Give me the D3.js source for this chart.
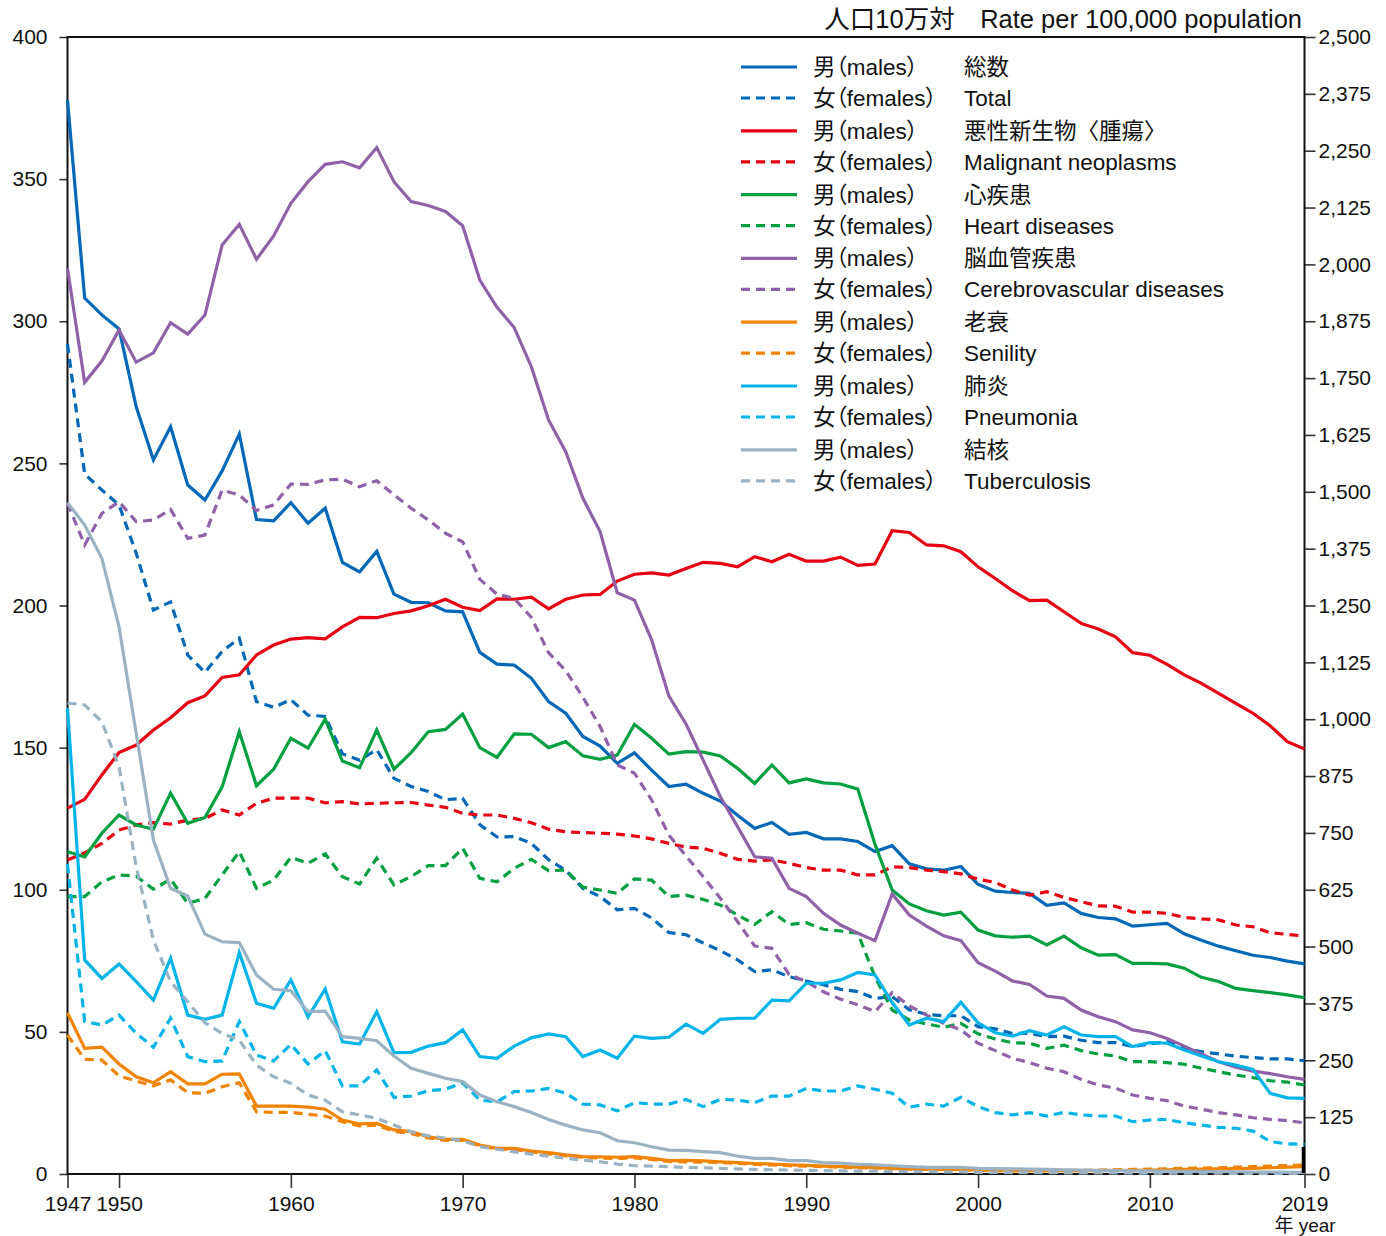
<!DOCTYPE html>
<html>
<head>
<meta charset="utf-8">
<script src="https://cdn.jsdelivr.net/npm/d3@7"></script>
<style>
  body { margin: 0; background: #fff; }
  svg text { font-family: "Liberation Sans", "Noto Sans CJK JP", sans-serif; fill: #111; }
  .jp { font-feature-settings: "palt"; }
</style>
</head>
<body>
<svg id="chart" width="1386" height="1236"></svg>
<script>
// Age-adjusted death rates by cause and sex, 1947-2019
const years = d3.range(1947, 2020);

// Total (right axis, per 100,000)
const totalMale = [2361,1926,1889,1858,1687,1570,1643,1515,1482,1546,
  1627,1439,1436,1476,1431,1464,1345,1324,1369,1275,
  1257,1256,1238,1236,1147,1121,1119,1090,1039,1013,
  962,941,903,926,888,852,857,837,820,789,
  760,773,747,751,737,737,731,709,722,682,
  671,668,676,637,622,619,617,591,596,573,
  564,561,545,548,551,528,514,501,491,481,
  476,468,462];
const totalFemale = [1825,1539,1504,1471,1365,1240,1258,1141,1103,1149,
  1178,1039,1026,1043,1009,1006,924,910,933,870,
  852,841,823,826,768,741,742,727,691,668,
  628,610,581,584,563,531,526,508,491,471,
  445,449,434,424,416,406,401,386,390,361,
  351,348,348,324,319,309,309,302,303,294,
  289,289,280,286,291,276,269,264,259,256,
  253,253,249];

// Causes (left axis, per 100,000)
const cancerMale = [128.7,131.8,140.4,148.3,150.9,156.2,160.5,165.8,168.2,174.7,
  175.6,182.6,186.1,188.2,188.7,188.3,192.5,195.8,195.7,197.2,
  198.1,199.9,202.2,199.4,198.2,202.3,202.2,202.9,198.8,202.2,
  203.7,203.9,208.6,211.0,211.5,210.7,213.0,215.2,214.8,213.6,
  217.2,215.4,218.0,215.6,215.6,217.0,214.1,214.6,226.3,225.7,
  221.3,221.0,218.9,213.6,209.5,205.2,201.7,201.9,197.8,193.7,
  191.7,189.0,183.4,182.5,179.3,175.6,172.6,169.1,165.6,162.1,
  157.7,152.1,149.5];
const cancerFemale = [110.5,113.0,116.3,121.0,122.8,123.6,123.1,124.5,125.1,128.1,
  126.3,130.4,132.2,132.2,132.2,130.6,131.0,130.2,130.4,130.6,
  130.7,129.8,129.0,126.9,126.3,126.3,125.1,123.6,121.3,120.4,
  120.1,119.9,119.6,118.9,117.9,116.3,115.0,114.6,112.8,110.7,
  110.1,110.5,109.3,107.8,106.9,106.9,105.2,105.2,108.1,107.8,
  106.9,106.4,105.6,103.7,102.6,99.9,98.1,99.3,97.3,95.8,
  94.3,94.2,92.1,92.1,91.7,90.3,89.7,89.4,87.6,87.0,
  84.9,84.3,83.7];
const heartMale = [113.4,111.6,119.9,126.3,122.8,121.3,134.0,123.4,125.4,136.2,
  155.6,136.6,142.4,153.3,149.8,160.0,145.3,142.9,156.2,142.4,
  148.2,155.6,156.4,161.8,150.0,146.6,154.8,154.7,150.0,152.1,
  147.1,145.9,147.4,158.2,153.3,147.7,148.6,148.4,147.1,142.7,
  137.4,143.9,137.6,139.0,137.6,137.2,135.4,116.0,99.9,95.0,
  92.6,91.1,92.1,85.8,83.8,83.3,83.7,80.6,83.7,79.6,
  77.0,77.2,74.1,74.1,73.9,72.4,69.2,67.7,65.3,64.5,
  63.8,63.0,62.0];
const heartFemale = [97.6,97.6,102.8,105.2,104.8,100.2,103.7,95.2,97.0,105.2,
  113.4,100.5,103.4,111.4,109.3,112.6,104.6,102.0,111.1,101.7,
  104.6,108.5,108.5,114.6,104.0,102.8,107.5,110.7,106.7,106.9,
  100.9,99.9,98.7,103.8,103.4,97.6,98.1,96.6,94.6,91.1,
  87.8,92.3,87.8,88.4,86.1,85.5,84.7,69.4,57.7,54.2,
  52.8,51.6,53.0,49.3,47.5,46.2,46.0,44.2,45.3,43.4,
  42.2,41.5,39.5,39.5,39.2,38.6,37.2,36.0,34.8,33.9,
  32.8,32.3,31.3];
const cerebroMale = [318.6,278.5,286.0,296.9,285.6,288.9,299.5,295.5,302.2,326.8,
  334.1,321.8,330.0,341.5,349.1,355.2,356.1,354.0,361.1,349.1,
  342.1,340.7,338.6,333.6,314.5,304.9,297.8,284.0,265.3,254.1,
  237.7,226.0,204.5,201.9,187.9,168.2,158.3,145.6,132.7,122.2,
  111.6,111.1,100.5,97.6,91.7,87.6,84.7,82.1,98.5,91.1,
  87.2,83.8,82.1,74.3,71.4,67.9,66.7,62.6,61.8,57.7,
  55.3,53.6,50.7,49.7,47.7,45.0,42.2,39.5,37.6,36.2,
  35.3,34.2,33.3];
const cerebroFemale = [236.0,221.3,232.4,236.5,229.5,230.1,233.8,223.6,224.8,240.6,
  238.9,233.4,235.4,242.7,242.6,244.2,244.4,241.8,243.9,238.9,
  234.2,230.1,225.4,222.4,209.2,204.0,202.5,195.8,183.4,177.1,
  167.7,157.4,143.9,141.0,131.6,119.3,111.9,104.6,97.0,88.8,
  80.2,79.4,70.2,67.7,64.1,61.5,59.5,57.1,63.8,59.1,
  55.9,53.0,50.7,46.0,43.4,40.7,39.2,37.2,36.0,33.3,
  31.3,30.2,27.8,26.6,25.8,23.9,22.8,21.6,20.8,19.8,
  19.2,18.8,18.0];
const senilityMale = [56.7,44.2,44.6,38.7,34.2,32.1,36.0,31.7,31.7,35.1,
  35.2,23.9,23.9,23.9,23.5,22.8,19.0,17.6,17.8,15.5,
  14.9,13.1,12.2,12.2,10.2,9.0,9.0,8.1,7.5,6.7,
  6.1,6.0,5.9,6.1,5.5,4.7,4.8,4.6,4.3,4.0,
  3.7,3.5,3.2,3.0,2.8,2.6,2.4,2.3,2.0,1.8,
  1.7,1.6,1.6,1.4,1.3,1.2,1.2,1.2,1.2,1.2,
  1.2,1.3,1.3,1.4,1.5,1.6,1.7,1.8,1.9,2.0,
  2.2,2.4,2.6];
const senilityFemale = [48.9,40.3,40.1,34.5,32.7,31.0,33.1,28.6,28.4,30.7,
  32.1,21.9,21.7,21.7,21.0,20.4,18.4,16.9,17.2,15.0,
  14.3,12.7,11.8,11.9,9.9,8.8,8.6,7.8,7.1,6.4,
  5.9,5.6,5.5,5.7,5.1,4.4,4.3,4.2,4.0,3.7,
  3.4,3.2,2.9,2.8,2.6,2.4,2.2,2.1,1.9,1.7,
  1.6,1.5,1.5,1.3,1.2,1.2,1.2,1.2,1.3,1.3,
  1.4,1.5,1.6,1.7,1.8,2.0,2.1,2.2,2.4,2.6,
  2.8,3.0,3.2];
const pneumoniaMale = [163.9,75.3,68.8,73.9,67.7,61.2,75.9,55.9,54.4,55.9,
  77.9,60.1,58.3,68.3,55.3,65.1,46.5,45.7,57.1,42.7,
  42.8,45.0,46.2,50.7,41.3,40.7,45.0,47.9,49.3,48.3,
  41.3,43.6,40.7,48.5,47.7,48.1,52.7,49.5,54.4,54.8,
  54.8,61.2,60.9,67.1,67.1,68.3,70.9,70.0,60.3,52.4,
  54.8,53.6,60.4,53.2,49.7,48.5,50.4,48.9,51.8,48.9,
  48.3,48.3,44.8,46.2,46.0,43.6,41.5,39.5,38.3,36.8,
  28.4,26.8,26.6];
const pneumoniaFemale = [109.0,53.6,52.4,55.9,49.5,44.6,54.8,41.3,39.5,39.8,
  53.6,41.9,39.8,45.6,38.7,43.4,31.0,31.0,36.6,27.0,
  27.4,29.3,29.8,32.1,26.0,25.4,29.0,29.2,30.1,28.4,
  24.6,24.3,22.2,25.1,24.6,24.6,26.2,23.7,26.3,26.0,
  25.1,27.4,27.4,30.1,29.2,29.2,31.0,29.8,28.4,23.5,
  24.6,23.9,27.0,23.7,21.6,20.8,21.6,20.4,21.7,20.8,
  20.4,20.4,18.4,19.0,19.2,18.0,17.2,16.4,16.1,15.1,
  11.4,10.6,10.4];
const tbMale = [236.2,228.3,216.6,192.5,155.0,117.5,100.5,97.8,84.4,81.7,
  81.4,70.0,65.0,64.5,57.1,57.3,48.3,47.7,46.9,41.5,
  37.2,35.4,33.7,32.5,27.8,25.4,23.7,21.6,19.2,17.2,
  15.5,14.5,11.7,11.0,9.6,8.4,8.3,7.9,7.5,6.3,
  5.5,5.5,4.7,4.7,4.0,3.8,3.4,3.2,2.9,2.6,
  2.3,2.3,2.3,2.0,1.9,1.8,1.7,1.6,1.5,1.4,
  1.3,1.2,1.1,1.1,1.0,0.9,0.9,0.8,0.8,0.7,
  0.7,0.6,0.6];
const tbFemale = [165.7,165.0,159.1,143.3,108.1,82.3,67.7,60.6,53.2,49.5,
  47.1,38.3,34.2,31.9,27.8,26.0,21.9,20.8,19.6,17.2,
  14.9,13.4,12.6,11.7,9.6,8.7,7.8,7.0,6.3,5.5,
  4.9,4.3,3.5,2.9,2.8,2.6,2.3,2.2,2.0,1.8,
  1.6,1.5,1.4,1.3,1.2,1.1,1.0,1.0,0.9,0.8,
  0.8,0.7,0.7,0.6,0.6,0.5,0.5,0.5,0.4,0.4,
  0.4,0.4,0.3,0.3,0.3,0.3,0.3,0.3,0.2,0.2,
  0.2,0.2,0.2];

// Tick values and labels
const leftTicks = d3.range(0, 401, 50);
const rightTicks = d3.range(0, 2501, 125);
const yearTicks = [1947, 1950, 1960, 1970, 1980, 1990, 2000, 2010, 2019];
const causesJa = ["総数", "悪性新生物〈腫瘍〉", "心疾患", "脳血管疾患", "老衰", "肺炎", "結核"];
const causesEn = ["Total", "Malignant neoplasms", "Heart diseases", "Cerebrovascular diseases", "Senility", "Pneumonia", "Tuberculosis"];
const maleLabel = "男（males）";
const femaleLabel = "女（females）";

// Series layout: which arrays, colour and axis
const groups = [
  { male: totalMale, female: totalFemale, color: "#0068b7", axis: "right" },
  { male: cancerMale, female: cancerFemale, color: "#e60012", axis: "left" },
  { male: heartMale, female: heartFemale, color: "#00a040", axis: "left" },
  { male: cerebroMale, female: cerebroFemale, color: "#9060a8", axis: "left" },
  { male: senilityMale, female: senilityFemale, color: "#f08300", axis: "left" },
  { male: pneumoniaMale, female: pneumoniaFemale, color: "#00b4ea", axis: "left" },
  { male: tbMale, female: tbFemale, color: "#9ab3c4", axis: "left" }
];

const svg = d3.select("#chart");
const plot = { left: 67.5, right: 1304.5, top: 37, bottom: 1174 };

const x = d3.scaleLinear().domain([1947, 2019]).range([plot.left, plot.right]);
const yLeft = d3.scaleLinear().domain([0, 400]).range([plot.bottom, plot.top]);
const yRight = d3.scaleLinear().domain([0, 2500]).range([plot.bottom, plot.top]);

const DASH = "9,6";
const LW = 3.2;

// Axes
const gL = svg.append("g").attr("transform", `translate(${plot.left},0)`)
  .call(d3.axisLeft(yLeft).tickValues(leftTicks).tickSize(8).tickPadding(12));
const gR = svg.append("g").attr("transform", `translate(${plot.right},0)`)
  .call(d3.axisRight(yRight).tickValues(rightTicks).tickSize(11).tickPadding(3).tickFormat(d3.format(",")));
const gB = svg.append("g").attr("transform", `translate(0,${plot.bottom})`)
  .call(d3.axisBottom(x).tickValues(yearTicks).tickSize(14).tickPadding(8).tickFormat(d3.format("d")));

[gL, gR, gB].forEach(g => {
  g.select(".domain").remove();
  g.selectAll(".tick line").attr("stroke", "#333").attr("stroke-width", 1.6);
  g.selectAll(".tick text").attr("font-size", 21).attr("fill", "#111")
    .attr("font-family", "Liberation Sans, sans-serif");
});

// Plot frame
svg.append("rect")
  .attr("x", plot.left).attr("y", plot.top)
  .attr("width", plot.right - plot.left).attr("height", plot.bottom - plot.top)
  .attr("fill", "none").attr("stroke", "#111").attr("stroke-width", 2);

// Lines
const lineGen = scale => d3.line().x((d, i) => x(years[i])).y(d => scale(d));
const linesG = svg.append("g");
groups.forEach(gr => {
  const sc = gr.axis === "right" ? yRight : yLeft;
  linesG.append("path").datum(gr.female)
    .attr("d", lineGen(sc))
    .attr("fill", "none").attr("stroke", gr.color).attr("stroke-width", LW)
    .attr("stroke-dasharray", DASH);
  linesG.append("path").datum(gr.male)
    .attr("d", lineGen(sc))
    .attr("fill", "none").attr("stroke", gr.color).attr("stroke-width", LW);
});

// Short heavy stroke on the right axis foot
svg.append("line")
  .attr("x1", plot.right - 1).attr("x2", plot.right - 1)
  .attr("y1", plot.bottom - 27).attr("y2", plot.bottom - 1)
  .attr("stroke", "#000").attr("stroke-width", 3.5);

// Legend
const leg = svg.append("g");
const LEG_FS = 22.5;
groups.forEach((gr, i) => {
  const yM = 67 + i * 63.8;
  const yF = yM + 31;
  leg.append("line").attr("x1", 741).attr("x2", 797).attr("y1", yM).attr("y2", yM)
    .attr("stroke", gr.color).attr("stroke-width", LW);
  leg.append("line").attr("x1", 741).attr("x2", 797).attr("y1", yF).attr("y2", yF)
    .attr("stroke", gr.color).attr("stroke-width", LW).attr("stroke-dasharray", DASH);
  leg.append("text").attr("class", "jp").attr("x", 813).attr("y", yM + 8)
    .attr("font-size", LEG_FS).text(maleLabel);
  leg.append("text").attr("class", "jp").attr("x", 813).attr("y", yF + 8)
    .attr("font-size", LEG_FS).text(femaleLabel);
  leg.append("text").attr("x", 964).attr("y", yM + 8)
    .attr("font-size", LEG_FS).text(causesJa[i]);
  leg.append("text").attr("x", 964).attr("y", yF + 8)
    .attr("font-size", LEG_FS).text(causesEn[i]);
});

// Unit caption and year caption
svg.append("text").attr("x", 1302).attr("y", 28)
  .attr("text-anchor", "end").attr("font-size", 25.5)
  .text("人口10万対　Rate per 100,000 population");
svg.append("text").attr("class", "jp").attr("x", 1305).attr("y", 1232)
  .attr("text-anchor", "middle").attr("font-size", 19)
  .text("年 year");
</script>
</body>
</html>
